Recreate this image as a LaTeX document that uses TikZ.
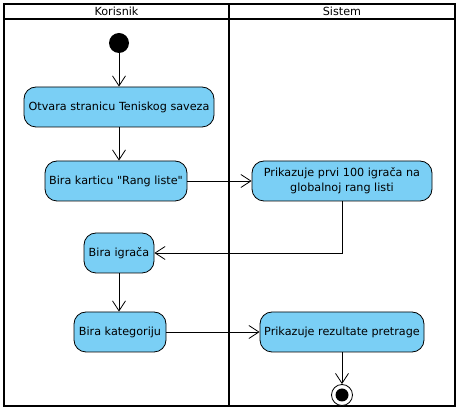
\documentclass[tikz,border=0pt]{standalone}
\usepackage{fontspec}
\setmainfont{DejaVu Sans}[Ligatures=TeXOff]
\usetikzlibrary{arrows.meta}
\definecolor{actfill}{RGB}{122,207,245}
\begin{document}
\begin{tikzpicture}[x=1pt,y=-1pt,
  act/.style={draw=black,fill=actfill,rounded corners=12pt,line width=0.8pt,inner sep=0pt,align=center,font=\fontsize{11.2}{15}\selectfont},
  flow/.style={draw=black,line width=0.8pt,-{Straight Barb[length=10pt,width=13pt,line width=0.8pt]}},
  frame/.style={draw=black,line width=1.8pt}]
\useasboundingbox (0,0) rectangle (461,411);
% swimlanes
\draw[frame] (4,4) rectangle (455,406);
\draw[frame] (4,19) -- (455,19);
\draw[frame] (229,4) -- (229,406);
\node[font=\fontsize{11.2}{12}\selectfont] (hk) at (116.5,11.5) {Korisnik};
\node[font=\fontsize{11.2}{12}\selectfont] (hs) at (342,11.5) {Sistem};
% nodes
\node[circle,fill=black,minimum size=20pt,inner sep=0pt] (start) at (119,43) {};
\node[act,minimum width=190pt,minimum height=40pt] (a1) at (119,107) {Otvara stranicu Teniskog saveza};
\node[act,minimum width=142pt,minimum height=40pt] (a2) at (116,181) {Bira karticu "Rang liste"};
\node[act,minimum width=180pt,minimum height=40pt] (a3) at (342,181) {Prikazuje prvi 100 igrača na\\globalnoj rang listi};
\node[act,minimum width=70pt,minimum height=40pt] (a4) at (119,253) {Bira igrača};
\node[act,minimum width=92pt,minimum height=40pt] (a5) at (120,332) {Bira kategoriju};
\node[act,minimum width=164pt,minimum height=40pt] (a6) at (342,332) {Prikazuje rezultate pretrage};
\node[circle,draw=black,line width=0.8pt,fill=white,minimum size=21pt,inner sep=0pt] (end) at (342,395) {};
\node[circle,fill=black,minimum size=13pt,inner sep=0pt] (endin) at (end) {};
% flows
\draw[flow] (start) -- (a1);
\draw[flow] (a1.south -| start) -- (a2.north -| start);
\draw[flow] (a2) -- (a3);
\draw[flow] (a3.south) |- (a4.east);
\draw[flow] (a4.south -| start) -- (a5.north -| start);
\draw[flow] (a5) -- (a6);
\draw[flow] (a6) -- (end);
\end{tikzpicture}
\end{document}
